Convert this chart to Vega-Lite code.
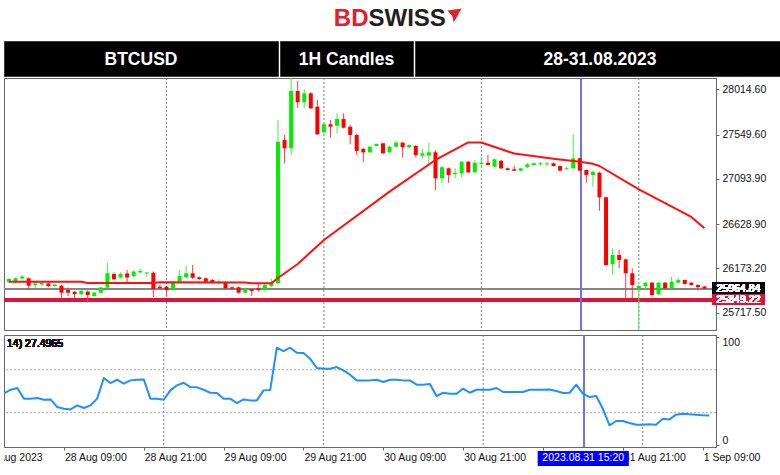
{
  "$schema": "https://vega.github.io/schema/vega-lite/v6.json",
  "background": "white",
  "padding": {"left": 3, "top": 0, "right": 0, "bottom": 0},
  "autosize": {"type": "pad"},
  "spacing": 3,
  "config": {
    "view": {"stroke": null},
    "font": "Liberation Sans",
    "text": {"font": "Liberation Sans"},
    "line": {"strokeJoin": "round"},
    "axis": {"labelFont": "Liberation Sans", "labelFontSize": 10.5, "labelColor": "#111", "domainColor": "#666", "tickColor": "#666", "tickSize": 3, "labelPadding": 3, "grid": false}
  },
  "datasets": {
    "candles": [
      {"hour":0,"open":26033,"high":26074,"low":26023,"close":26064,"rsi":48.0},
      {"hour":1,"open":26036,"high":26079,"low":26028,"close":26071,"rsi":51.4},
      {"hour":2,"open":26069,"high":26105,"low":26059,"close":26090,"rsi":53.0},
      {"hour":3,"open":26071,"high":26079,"low":25951,"close":25995,"rsi":43.1},
      {"hour":4,"open":26002,"high":26043,"low":25971,"close":26018,"rsi":43.1},
      {"hour":5,"open":26007,"high":26033,"low":25992,"close":26023,"rsi":43.7},
      {"hour":6,"open":26018,"high":26028,"low":25982,"close":25992,"rsi":42.1},
      {"hour":7,"open":25992,"high":26018,"low":25982,"close":26007,"rsi":42.4},
      {"hour":8,"open":25995,"high":26002,"low":25869,"close":25923,"rsi":35.3},
      {"hour":9,"open":25951,"high":25977,"low":25889,"close":25923,"rsi":33.7},
      {"hour":10,"open":25933,"high":25941,"low":25869,"close":25910,"rsi":33.1},
      {"hour":11,"open":25910,"high":25956,"low":25899,"close":25941,"rsi":36.9},
      {"hour":12,"open":25935,"high":25946,"low":25820,"close":25899,"rsi":34.4},
      {"hour":13,"open":25889,"high":25930,"low":25884,"close":25925,"rsi":36.9},
      {"hour":14,"open":25923,"high":25987,"low":25915,"close":25977,"rsi":43.1},
      {"hour":15,"open":25975,"high":26232,"low":25966,"close":26123,"rsi":62.3},
      {"hour":16,"open":26115,"high":26131,"low":26054,"close":26061,"rsi":57.6},
      {"hour":17,"open":26079,"high":26131,"low":26069,"close":26115,"rsi":60.7},
      {"hour":18,"open":26121,"high":26157,"low":26028,"close":26079,"rsi":57.0},
      {"hour":19,"open":26095,"high":26151,"low":26085,"close":26141,"rsi":60.1},
      {"hour":20,"open":26131,"high":26167,"low":26126,"close":26146,"rsi":60.7},
      {"hour":21,"open":26121,"high":26136,"low":26085,"close":26131,"rsi":61.0},
      {"hour":22,"open":26128,"high":26141,"low":25879,"close":25961,"rsi":43.1},
      {"hour":23,"open":25985,"high":26002,"low":25956,"close":25968,"rsi":43.1},
      {"hour":24,"open":25985,"high":25992,"low":25882,"close":25951,"rsi":42.1},
      {"hour":25,"open":25951,"high":26039,"low":25946,"close":26030,"rsi":50.8},
      {"hour":26,"open":26030,"high":26157,"low":26023,"close":26095,"rsi":55.5},
      {"hour":27,"open":26081,"high":26198,"low":26074,"close":26123,"rsi":57.9},
      {"hour":28,"open":26123,"high":26208,"low":26064,"close":26077,"rsi":53.9},
      {"hour":29,"open":26081,"high":26090,"low":26054,"close":26064,"rsi":53.6},
      {"hour":30,"open":26071,"high":26079,"low":26028,"close":26036,"rsi":51.4},
      {"hour":31,"open":26054,"high":26064,"low":26023,"close":26030,"rsi":48.6},
      {"hour":32,"open":26026,"high":26061,"low":26002,"close":26036,"rsi":48.3},
      {"hour":33,"open":26030,"high":26039,"low":25961,"close":25968,"rsi":43.1},
      {"hour":34,"open":25979,"high":25987,"low":25956,"close":25964,"rsi":43.1},
      {"hour":35,"open":25979,"high":25987,"low":25915,"close":25923,"rsi":39.0},
      {"hour":36,"open":25923,"high":25961,"low":25920,"close":25958,"rsi":42.4},
      {"hour":37,"open":25958,"high":25966,"low":25889,"close":25941,"rsi":41.5},
      {"hour":38,"open":25968,"high":26020,"low":25933,"close":25951,"rsi":41.5},
      {"hour":39,"open":25951,"high":26026,"low":25943,"close":26002,"rsi":50.8},
      {"hour":40,"open":25992,"high":26064,"low":25982,"close":26028,"rsi":51.1},
      {"hour":41,"open":26020,"high":27699,"low":26013,"close":27476,"rsi":90.5},
      {"hour":42,"open":27493,"high":27545,"low":27254,"close":27408,"rsi":87.4},
      {"hour":43,"open":27408,"high":28134,"low":27339,"close":27997,"rsi":90.5},
      {"hour":44,"open":27997,"high":28100,"low":27822,"close":27881,"rsi":85.8},
      {"hour":45,"open":27881,"high":28017,"low":27819,"close":27973,"rsi":85.5},
      {"hour":46,"open":27973,"high":27987,"low":27812,"close":27819,"rsi":80.3},
      {"hour":47,"open":27836,"high":27905,"low":27545,"close":27552,"rsi":71.6},
      {"hour":48,"open":27572,"high":27668,"low":27565,"close":27655,"rsi":71.0},
      {"hour":49,"open":27655,"high":27699,"low":27517,"close":27630,"rsi":71.0},
      {"hour":50,"open":27640,"high":27768,"low":27562,"close":27709,"rsi":72.5},
      {"hour":51,"open":27709,"high":27768,"low":27612,"close":27620,"rsi":69.4},
      {"hour":52,"open":27630,"high":27650,"low":27449,"close":27545,"rsi":65.4},
      {"hour":53,"open":27545,"high":27555,"low":27339,"close":27380,"rsi":60.1},
      {"hour":54,"open":27401,"high":27411,"low":27264,"close":27367,"rsi":60.1},
      {"hour":55,"open":27367,"high":27432,"low":27360,"close":27424,"rsi":60.1},
      {"hour":56,"open":27432,"high":27457,"low":27426,"close":27452,"rsi":60.7},
      {"hour":57,"open":27459,"high":27467,"low":27349,"close":27357,"rsi":58.6},
      {"hour":58,"open":27367,"high":27432,"low":27360,"close":27424,"rsi":60.7},
      {"hour":59,"open":27424,"high":27486,"low":27421,"close":27466,"rsi":60.7},
      {"hour":60,"open":27466,"high":27473,"low":27311,"close":27418,"rsi":60.1},
      {"hour":61,"open":27418,"high":27447,"low":27411,"close":27442,"rsi":60.1},
      {"hour":62,"open":27432,"high":27442,"low":27315,"close":27339,"rsi":56.1},
      {"hour":63,"open":27332,"high":27408,"low":27305,"close":27357,"rsi":56.1},
      {"hour":64,"open":27332,"high":27466,"low":27226,"close":27367,"rsi":56.7},
      {"hour":65,"open":27367,"high":27390,"low":26979,"close":27099,"rsi":45.5},
      {"hour":66,"open":27099,"high":27226,"low":27048,"close":27213,"rsi":48.6},
      {"hour":67,"open":27202,"high":27210,"low":27054,"close":27133,"rsi":47.7},
      {"hour":68,"open":27144,"high":27202,"low":27099,"close":27157,"rsi":47.7},
      {"hour":69,"open":27151,"high":27277,"low":27110,"close":27270,"rsi":52.4},
      {"hour":70,"open":27270,"high":27277,"low":27154,"close":27161,"rsi":48.6},
      {"hour":71,"open":27161,"high":27288,"low":27154,"close":27260,"rsi":51.4},
      {"hour":72,"open":27247,"high":27322,"low":27202,"close":27260,"rsi":51.4},
      {"hour":73,"open":27260,"high":27339,"low":27231,"close":27236,"rsi":51.4},
      {"hour":74,"open":27219,"high":27303,"low":27216,"close":27295,"rsi":53.0},
      {"hour":75,"open":27280,"high":27288,"low":27195,"close":27202,"rsi":49.3},
      {"hour":76,"open":27202,"high":27210,"low":27180,"close":27185,"rsi":49.3},
      {"hour":77,"open":27192,"high":27229,"low":27174,"close":27178,"rsi":49.3},
      {"hour":78,"open":27178,"high":27210,"low":27174,"close":27202,"rsi":49.3},
      {"hour":79,"open":27213,"high":27257,"low":27205,"close":27243,"rsi":51.4},
      {"hour":80,"open":27236,"high":27262,"low":27226,"close":27254,"rsi":51.4},
      {"hour":81,"open":27243,"high":27267,"low":27226,"close":27254,"rsi":51.4},
      {"hour":82,"open":27243,"high":27267,"low":27226,"close":27252,"rsi":51.7},
      {"hour":83,"open":27254,"high":27260,"low":27219,"close":27226,"rsi":50.2},
      {"hour":84,"open":27226,"high":27231,"low":27174,"close":27178,"rsi":48.3},
      {"hour":85,"open":27192,"high":27219,"low":27185,"close":27202,"rsi":48.6},
      {"hour":86,"open":27202,"high":27552,"low":27195,"close":27305,"rsi":56.1},
      {"hour":87,"open":27305,"high":27313,"low":27169,"close":27178,"rsi":47.7},
      {"hour":88,"open":27185,"high":27190,"low":27054,"close":27133,"rsi":44.6},
      {"hour":89,"open":27133,"high":27174,"low":27013,"close":27167,"rsi":45.5},
      {"hour":90,"open":27157,"high":27169,"low":26766,"close":26904,"rsi":33.7},
      {"hour":91,"open":26904,"high":26912,"low":26198,"close":26208,"rsi":18.3},
      {"hour":92,"open":26218,"high":26380,"low":26105,"close":26311,"rsi":22.3},
      {"hour":93,"open":26311,"high":26362,"low":26174,"close":26259,"rsi":22.3},
      {"hour":94,"open":26266,"high":26275,"low":25866,"close":26123,"rsi":20.4},
      {"hour":95,"open":26123,"high":26174,"low":25866,"close":26002,"rsi":18.9},
      {"hour":96,"open":25968,"high":26002,"low":25437,"close":25992,"rsi":18.9},
      {"hour":97,"open":25992,"high":26036,"low":25958,"close":26026,"rsi":19.2},
      {"hour":98,"open":26026,"high":26033,"low":25882,"close":25899,"rsi":18.9},
      {"hour":99,"open":25910,"high":26033,"low":25899,"close":26026,"rsi":24.4},
      {"hour":100,"open":26026,"high":26033,"low":25961,"close":25968,"rsi":23.8},
      {"hour":101,"open":25968,"high":26088,"low":25961,"close":26036,"rsi":28.2},
      {"hour":102,"open":26026,"high":26077,"low":26023,"close":26054,"rsi":29.1},
      {"hour":103,"open":26054,"high":26059,"low":26007,"close":26013,"rsi":28.5},
      {"hour":104,"open":26026,"high":26033,"low":25997,"close":26002,"rsi":28.2},
      {"hour":105,"open":26002,"high":26007,"low":25943,"close":25979,"rsi":27.6},
      {"hour":106,"open":25987,"high":25992,"low":25962,"close":25965,"rsi":27.5}
    ],
    "ma": [
      {"hour":0,"ma":26036},{"hour":11,"ma":26036},{"hour":12,"ma":26023},{"hour":22,"ma":26023},
      {"hour":23,"ma":26030},{"hour":36,"ma":26028},{"hour":37,"ma":26020},{"hour":40,"ma":26020},
      {"hour":41,"ma":26074},{"hour":44,"ma":26218},{"hour":48,"ma":26465},{"hour":58,"ma":26962},
      {"hour":65,"ma":27288},{"hour":70,"ma":27468},{"hour":72,"ma":27468},{"hour":77,"ma":27354},
      {"hour":83,"ma":27300},{"hour":87,"ma":27270},{"hour":89,"ma":27248},{"hour":90,"ma":27226},
      {"hour":96,"ma":26986},{"hour":104,"ma":26702},{"hour":106,"ma":26585}
    ],
    "midnights": [{"hour":24},{"hour":48},{"hour":72},{"hour":96}],
    "xlabels": [
      {"hour":-3.2,"label":"28 Aug 2023"},
      {"hour":9,"label":"28 Aug 09:00"},
      {"hour":21,"label":"28 Aug 21:00"},
      {"hour":33,"label":"29 Aug 09:00"},
      {"hour":45,"label":"29 Aug 21:00"},
      {"hour":57,"label":"30 Aug 09:00"},
      {"hour":69,"label":"30 Aug 21:00"},
      {"hour":81,"label":"31 Aug 09:00"},
      {"hour":93,"label":"31 Aug 21:00"},
      {"hour":105,"label":"1 Sep 09:00"}
    ]
  },
  "vconcat": [
    {
      "width": 777, "height": 37,
      "data": {"values": [{}]},
      "layer": [
        {"mark": {"type": "text", "text": "BD", "align": "right", "dx": -24, "font": "Liberation Sans", "fontSize": 24, "fontWeight": "bold", "color": "#e3212b"}},
        {"mark": {"type": "text", "text": "SWISS", "align": "left", "dx": -24, "font": "Liberation Sans", "fontSize": 24, "fontWeight": "bold", "color": "#231f20"}},
        {"mark": {"type": "point", "shape": "M -1 -0.7 L 1 -1 L -0.1 1 L -0.3 0.1 Z", "filled": true, "opacity": 1, "color": "#e3212b", "size": 200, "xOffset": 62, "yOffset": -3}}
      ]
    },
    {
      "spacing": 0,
      "vconcat": [
        {
          "hconcat": [
            {"width": 274, "height": 35, "data": {"values": [{"label": "BTCUSD"}]}, "view": {"fill": "#000", "stroke": "#3c3c3c"},
             "mark": {"type": "text", "color": "white", "font": "Liberation Sans", "fontSize": 17.5, "fontWeight": "bold", "dy": 1}, "encoding": {"text": {"field": "label"}}},
            {"width": 133, "height": 35, "data": {"values": [{"label": "1H Candles"}]}, "view": {"fill": "#000", "stroke": "#3c3c3c"},
             "mark": {"type": "text", "color": "white", "font": "Liberation Sans", "fontSize": 17.5, "fontWeight": "bold", "dy": 1}, "encoding": {"text": {"field": "label"}}},
            {"width": 370, "height": 35, "data": {"values": [{"label": "28-31.08.2023"}]}, "view": {"fill": "#000", "stroke": "#3c3c3c"},
             "mark": {"type": "text", "color": "white", "font": "Liberation Sans", "fontSize": 17.5, "fontWeight": "bold", "dy": 1}, "encoding": {"text": {"field": "label"}}}
          ],
          "spacing": 0
        },
        {
          "width": 712, "height": 252,
          "view": {"stroke": "#666"},
          "data": {"name": "candles"},
          "layer": [
            {"data": {"name": "midnights"}, "mark": {"type": "rule", "color": "#808080", "strokeDash": [2, 2], "strokeWidth": 1, "clip": true},
             "encoding": {"x": {"field": "hour", "type": "quantitative", "scale": {"domain": [0, 107], "nice": false, "zero": false}, "axis": null}}},
            {"mark": {"type": "rule", "color": "#858585", "strokeWidth": 1.5, "clip": true},
             "encoding": {"y": {"datum": 25964.84, "type": "quantitative", "scale": {"domain": [25539.5, 28130.8], "nice": false, "zero": false},
               "axis": {"orient": "right", "values": [25717.5, 26173.2, 26628.9, 27093.9, 27549.6, 28014.6], "format": ".2f", "title": null, "grid": false}}}},
            {"mark": {"type": "rule", "color": "#dc143c", "strokeWidth": 3, "clip": true},
             "encoding": {"y": {"datum": 25849.22, "type": "quantitative"}}},
            {"mark": {"type": "rule", "color": "#7070ff", "strokeWidth": 1, "clip": true},
             "encoding": {"x": {"datum": 87.12, "type": "quantitative", "axis": null}}},
            {"mark": {"type": "rule", "clip": true, "strokeWidth": 1},
             "encoding": {
               "x": {"field": "hour", "type": "quantitative", "axis": null},
               "y": {"field": "low", "type": "quantitative"},
               "y2": {"field": "high"},
               "color": {"condition": {"test": "datum.close >= datum.open", "value": "#40f040"}, "value": "#ff3a3a"}}},
            {"mark": {"type": "bar", "clip": true, "width": 4},
             "encoding": {
               "x": {"field": "hour", "type": "quantitative", "axis": null},
               "y": {"field": "open", "type": "quantitative"},
               "y2": {"field": "close"},
               "color": {"condition": {"test": "datum.close >= datum.open", "value": "#00f000"}, "value": "#ff0000"}}},
            {"data": {"name": "ma"}, "mark": {"type": "line", "color": "#ff1010", "strokeWidth": 2, "clip": true},
             "encoding": {"x": {"field": "hour", "type": "quantitative", "axis": null}, "y": {"field": "ma", "type": "quantitative"}}},
            {"mark": {"type": "rect", "color": "#000000"},
             "encoding": {"x": {"datum": 107.26, "type": "quantitative", "axis": null}, "x2": {"datum": 115.2}, "y": {"datum": 26026, "type": "quantitative"}, "y2": {"datum": 25917}}},
            {"mark": {"type": "rect", "color": "#dc143c"},
             "encoding": {"x": {"datum": 107.26, "type": "quantitative", "axis": null}, "x2": {"datum": 115.2}, "y": {"datum": 25906, "type": "quantitative"}, "y2": {"datum": 25797}}},
            {"mark": {"type": "text", "align": "left", "color": "white", "fontSize": 10.5},
             "encoding": {"x": {"datum": 107.85, "type": "quantitative", "axis": null}, "y": {"datum": 25964.84, "type": "quantitative"}, "text": {"value": "25964.84"}}},
            {"mark": {"type": "text", "align": "left", "color": "white", "fontSize": 10.5},
             "encoding": {"x": {"datum": 107.85, "type": "quantitative", "axis": null}, "y": {"datum": 25849.22, "type": "quantitative"}, "text": {"value": "25849.22"}}}
          ]
        }
      ]
    },
    {
      "spacing": 0,
      "vconcat": [
        {
          "width": 712, "height": 112,
          "view": {"stroke": "#666"},
          "data": {"name": "candles"},
          "layer": [
            {"data": {"name": "midnights"}, "mark": {"type": "rule", "color": "#808080", "strokeDash": [2, 2], "strokeWidth": 1, "clip": true},
             "encoding": {"x": {"field": "hour", "type": "quantitative", "scale": {"domain": [0, 107], "nice": false, "zero": false},
               "axis": {"orient": "bottom", "values": [9, 21, 33, 45, 57, 69, 81, 93, 105], "labels": false, "title": null, "grid": false, "tickSize": 3}}}},
            {"data": {"values": [{"level": 30}, {"level": 70}]}, "mark": {"type": "rule", "color": "#a8a8a8", "strokeDash": [2, 2], "strokeWidth": 1, "clip": true},
             "encoding": {"y": {"field": "level", "type": "quantitative", "scale": {"domain": [-1.86, 102.3], "nice": false, "zero": false},
               "axis": {"orient": "right", "values": [0, 30, 70, 100], "title": null, "grid": false, "labelFlush": 6}}}},
            {"mark": {"type": "rule", "color": "#7070ff", "strokeWidth": 1, "clip": true},
             "encoding": {"x": {"datum": 87.12, "type": "quantitative"}}},
            {"mark": {"type": "line", "color": "#1e90ff", "strokeWidth": 2, "clip": true},
             "encoding": {"x": {"field": "hour", "type": "quantitative"}, "y": {"field": "rsi", "type": "quantitative"}}},
            {"mark": {"type": "text", "align": "left", "color": "#111", "fontSize": 10.5},
             "encoding": {"x": {"datum": 0.45, "type": "quantitative"}, "y": {"datum": 94.0, "type": "quantitative"}, "text": {"value": "14) 27.4965"}}}
          ]
        },
        {
          "width": 777, "height": 13,
          "layer": [
            {"data": {"name": "xlabels"}, "mark": {"type": "text", "align": "left", "dx": 1, "dy": -2, "fontSize": 10.5, "color": "#111", "clip": true},
             "encoding": {"x": {"field": "hour", "type": "quantitative", "scale": {"domain": [0, 116.77], "nice": false, "zero": false}, "axis": null}, "text": {"field": "label"}}},
            {"data": {"values": [{}]}, "mark": {"type": "rect", "color": "#0000ff", "yOffset": -2},
             "encoding": {"x": {"datum": 80.2, "type": "quantitative", "axis": null}, "x2": {"datum": 93.9}}},
            {"data": {"values": [{}]}, "mark": {"type": "text", "color": "white", "fontSize": 10.5, "dy": -2},
             "encoding": {"x": {"datum": 87.05, "type": "quantitative", "axis": null}, "text": {"value": "2023.08.31 15:20"}}}
          ]
        }
      ]
    }
  ]
}
